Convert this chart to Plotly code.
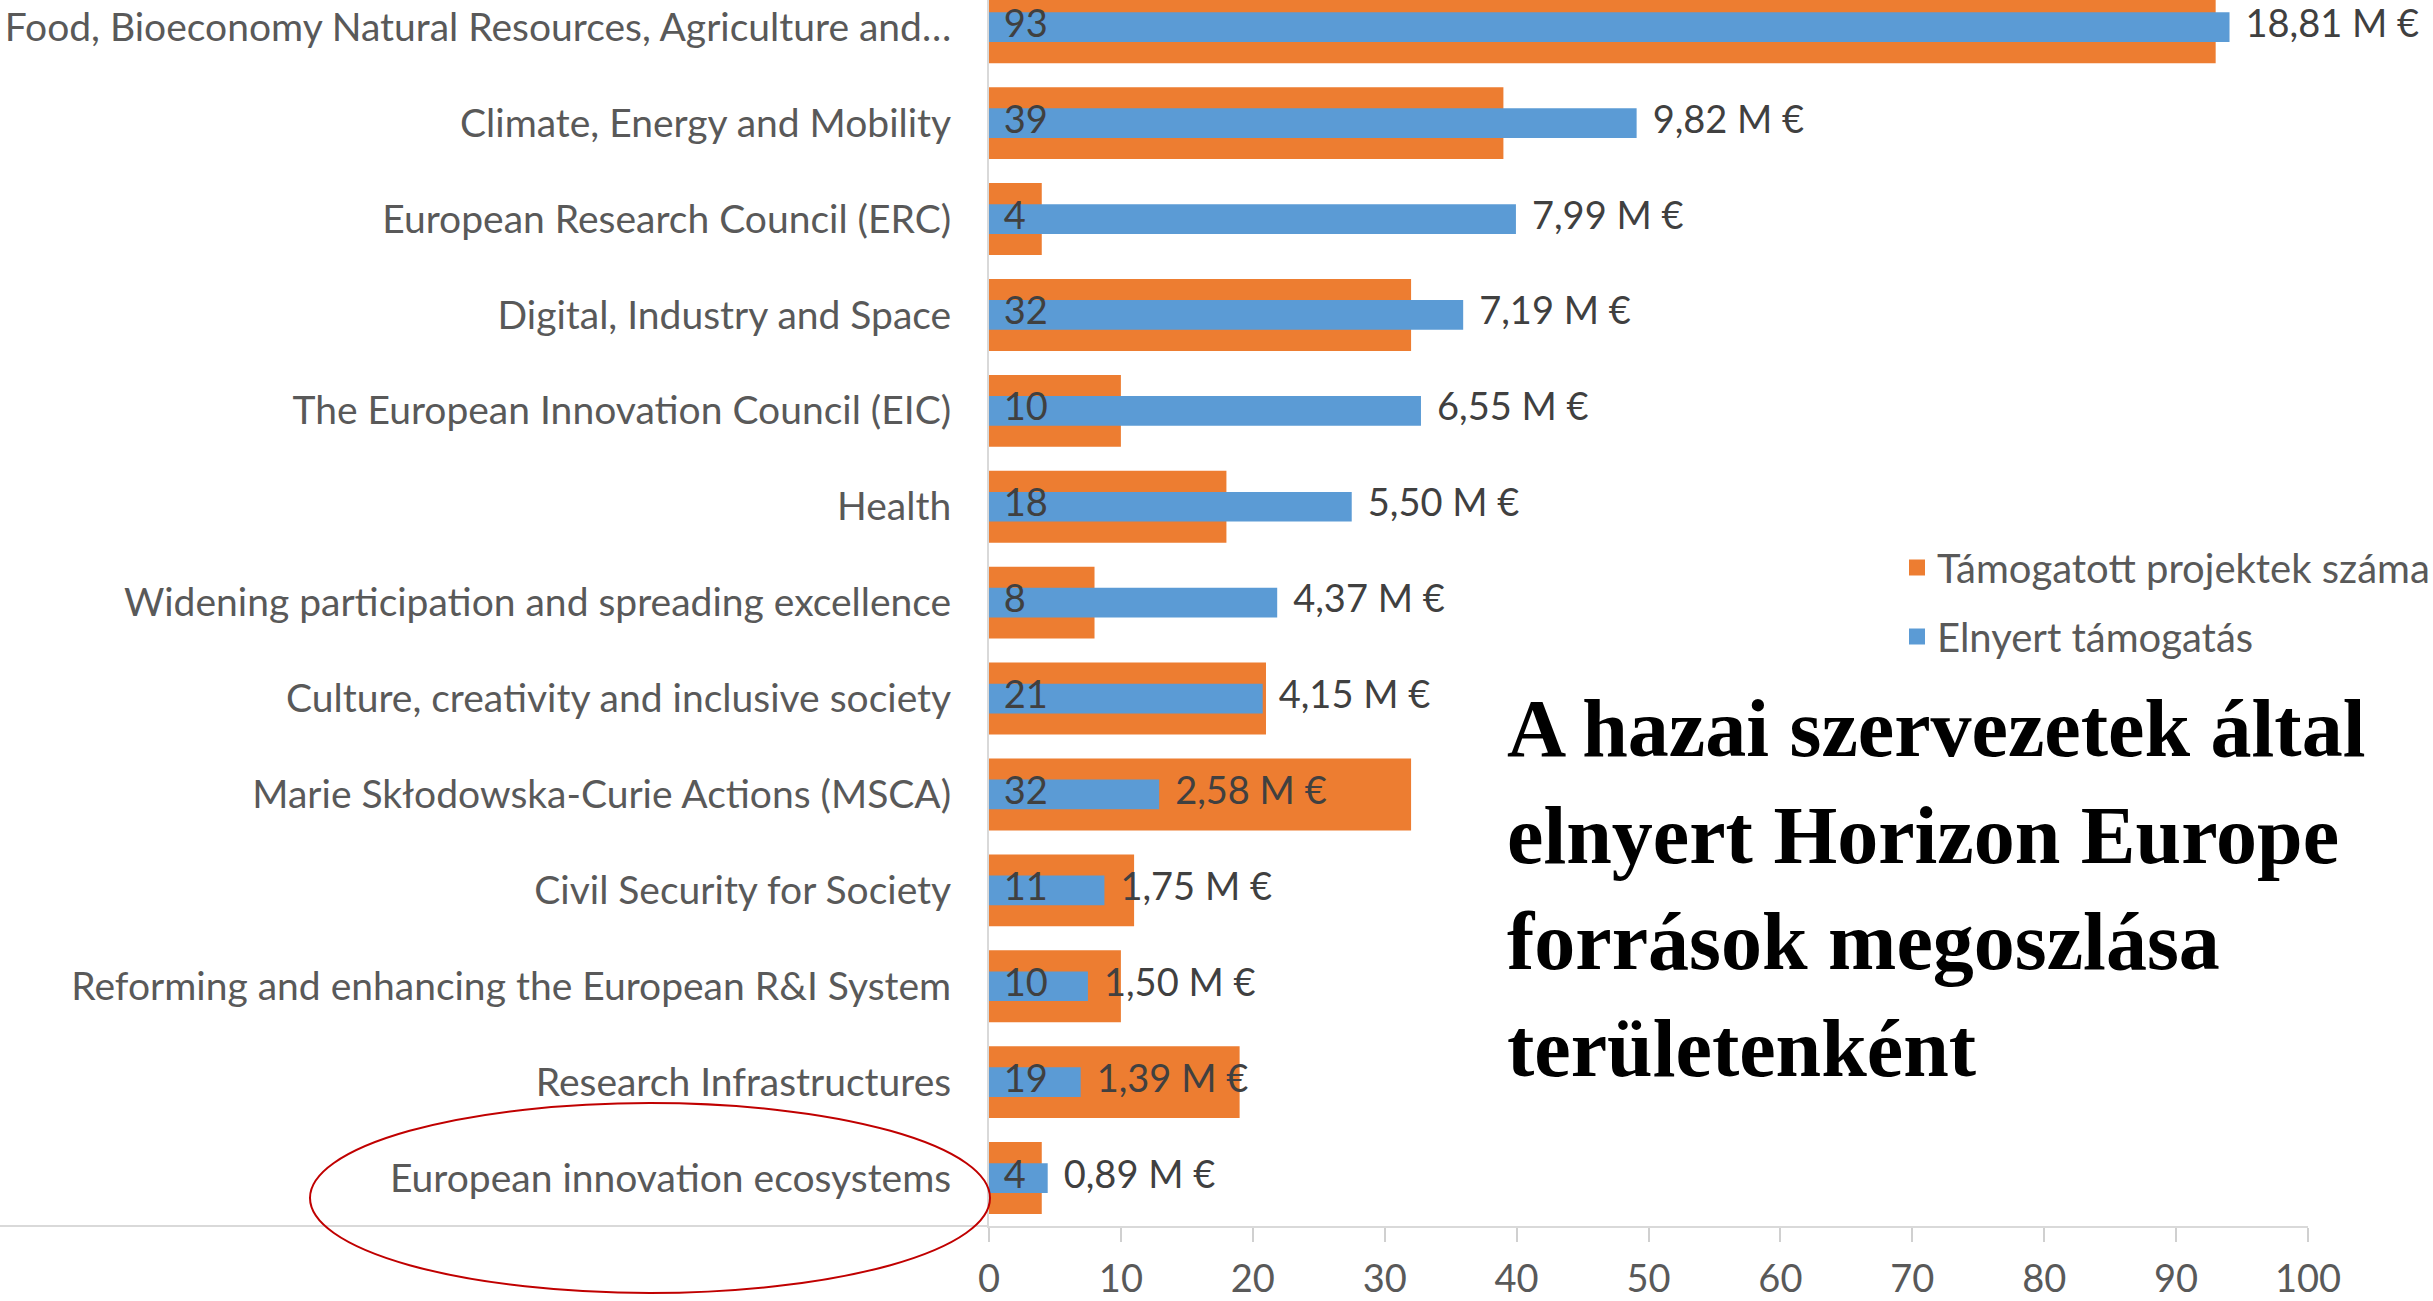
import plotly.graph_objects as go

categories = [
    "Food, Bioeconomy Natural Resources, Agriculture and…",
    "Climate, Energy and Mobility",
    "European Research Council (ERC)",
    "Digital, Industry and Space",
    "The European Innovation Council (EIC)",
    "Health",
    "Widening participation and spreading excellence",
    "Culture, creativity and inclusive society",
    "Marie Skłodowska-Curie Actions (MSCA)",
    "Civil Security for Society",
    "Reforming and enhancing the European R&I System",
    "Research Infrastructures",
    "European innovation ecosystems",
]
projects = [93, 39, 4, 32, 10, 18, 8, 21, 32, 11, 10, 19, 4]
funding_meur = [18.81, 9.82, 7.99, 7.19, 6.55, 5.50, 4.37, 4.15, 2.58, 1.75, 1.50, 1.39, 0.89]
x_ticks = [0, 10, 20, 30, 40, 50, 60, 70, 80, 90, 100]

name_projects = "Támogatott projektek száma"
name_funding = "Elnyert támogatás"
title_text = "A hazai szervezetek által<br>elnyert Horizon Europe<br>források megoszlása<br>területenként"

ORANGE = "#ED7D31"
BLUE = "#5B9BD5"
LABEL = "#595959"
DARK = "#404040"
FONT = "Lato"
FS_CAT = 39  # category labels
FS = 40      # legend labels
FSN = 38     # numbers

W, H = 2433, 1301
L, R, T, B = 989, 125, 0, 75
PW, PH = W - L - R, H - T - B

funding_text = [f"{v:.2f}".replace(".", ",") + " M €" for v in funding_meur]

fig = go.Figure()
fig.add_trace(go.Bar(
    y=categories, x=projects, orientation="h", width=0.75,
    marker=dict(color=ORANGE, line=dict(width=0)),
    xaxis="x", yaxis="y", showlegend=False, name=name_projects,
))
fig.add_trace(go.Bar(
    y=categories, x=funding_meur, orientation="h", width=0.31,
    marker=dict(color=BLUE, line=dict(width=0)),
    xaxis="x2", yaxis="y", showlegend=False, name=name_funding,
))
# count labels at bar base (on x2 so they are drawn above the blue bars; x2 starts at 0 too)
fig.add_trace(go.Scatter(
    y=categories, x=[0] * len(projects), mode="markers+text",
    text=[str(p) for p in projects], textposition="middle right",
    marker=dict(size=22, color="rgba(0,0,0,0)"),
    textfont=dict(family=FONT, size=FSN, color=DARK),
    xaxis="x2", yaxis="y", showlegend=False, hoverinfo="skip", cliponaxis=False,
))
# funding labels after blue bars
fig.add_trace(go.Scatter(
    y=categories, x=funding_meur, mode="markers+text",
    text=funding_text, textposition="middle right",
    marker=dict(size=24, color="rgba(0,0,0,0)"),
    textfont=dict(family=FONT, size=FSN, color=DARK),
    xaxis="x2", yaxis="y", showlegend=False, hoverinfo="skip", cliponaxis=False,
))
# legend entries
fig.add_trace(go.Scatter(x=[None], y=[None], mode="markers", name=name_projects,
                         marker=dict(symbol="square", size=22, color=ORANGE),
                         legendgroup="a", showlegend=True))
fig.add_trace(go.Scatter(x=[None], y=[None], mode="markers", name=name_funding,
                         marker=dict(symbol="square", size=22, color=BLUE),
                         legendgroup="b", showlegend=True))

fig.update_layout(
    width=W, height=H,
    margin=dict(l=L, r=R, t=T, b=B, pad=0, autoexpand=False),
    paper_bgcolor="white", plot_bgcolor="white",
    barmode="overlay",
    font=dict(family=FONT, size=FS, color=LABEL),
    xaxis=dict(
        range=[0, 100], tickvals=x_ticks, showgrid=False, zeroline=False,
        showline=True, linecolor="#D9D9D9", linewidth=2, automargin=False,
        ticks="outside", ticklen=14, tickwidth=2, tickcolor="#D0D0D0",
        ticklabelstandoff=4,
        tickfont=dict(family=FONT, size=FSN, color=LABEL),
    ),
    xaxis2=dict(range=[0, 20], overlaying="x", side="top", visible=False),
    yaxis=dict(
        type="category", categoryorder="array", categoryarray=categories,
        range=[12.5, -0.284], showgrid=False, zeroline=False, automargin=False,
        showline=True, linecolor="#D9D9D9", linewidth=2,
        ticks="", ticklabelstandoff=28,
        tickfont=dict(family=FONT, size=FS_CAT, color=LABEL),
    ),
    legend=dict(
        x=(1897 - L) / PW, xanchor="left", y=(PH - 535) / PH, yanchor="top",
        font=dict(family=FONT, size=FS, color=LABEL),
        traceorder="grouped", tracegroupgap=14, bgcolor="rgba(0,0,0,0)",
        itemwidth=30,
    ),
    showlegend=True,
    shapes=[
        dict(type="line", xref="paper", yref="paper", x0=-L / PW, x1=0, y0=0, y1=0,
             line=dict(color="#D9D9D9", width=2)),
        dict(type="circle", xref="paper", yref="paper",
             x0=(310 - L) / PW, x1=(990 - L) / PW,
             y0=(PH - 1293) / PH, y1=(PH - 1103) / PH,
             line=dict(color="#C00000", width=2)),
    ],
    annotations=[
        dict(text="<b>" + title_text + "</b>", xref="paper", yref="paper",
             x=(1505 - L) / PW, xanchor="left", y=(PH - 889) / PH, yanchor="middle",
             showarrow=False, align="left",
             font=dict(family="Liberation Serif", size=82, color="black")),
    ],
)

fig.write_html("out.html", config={"displayModeBar": False},
               post_script="document.body.style.margin='0';")
